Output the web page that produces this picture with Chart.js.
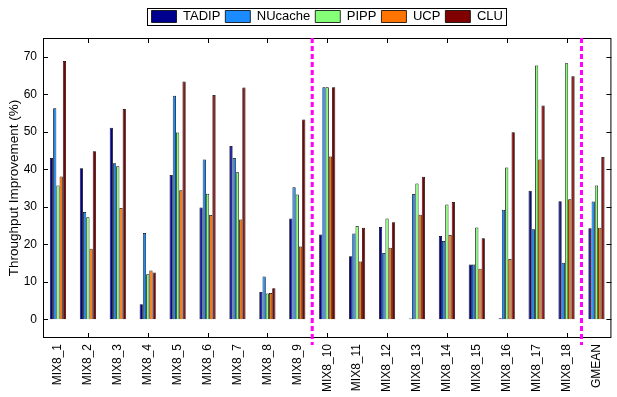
<!DOCTYPE html>
<html>
<head>
<meta charset="utf-8">
<script src="https://cdn.jsdelivr.net/npm/chart.js@4.4.0/dist/chart.umd.min.js"></script>
<style>
  html, body { margin: 0; padding: 0; background: #fff; }
  #wrap { width: 617px; height: 397px; position: relative; }
</style>
</head>
<body>
<div id="wrap"><canvas id="myChart"></canvas></div>
<script>
// data (% throughput improvement)
const categories = ['MIX8_1', 'MIX8_2', 'MIX8_3', 'MIX8_4', 'MIX8_5', 'MIX8_6', 'MIX8_7', 'MIX8_8', 'MIX8_9',
  'MIX8_10', 'MIX8_11', 'MIX8_12', 'MIX8_13', 'MIX8_14', 'MIX8_15', 'MIX8_16', 'MIX8_17', 'MIX8_18', 'GMEAN'];
const tadip   = [43.0, 40.3, 51.1, 4.0, 38.5, 29.8, 46.2, 7.3, 26.9, 22.6, 16.8, 24.6, 0.2, 22.2, 14.6, 0.3, 34.3, 31.5, 24.3];
const nucache = [56.3, 28.6, 41.6, 23.0, 59.6, 42.6, 43.0, 11.4, 35.2, 61.9, 22.9, 17.7, 33.4, 20.9, 14.6, 29.2, 24.0, 15.1, 31.4];
const pipp    = [35.7, 27.2, 40.8, 12.0, 49.8, 33.5, 39.2, 6.9, 33.3, 61.9, 24.9, 26.9, 36.2, 30.6, 24.5, 40.5, 67.7, 68.3, 35.7];
const ucp     = [38.1, 18.8, 29.7, 13.0, 34.4, 27.8, 26.6, 7.0, 19.4, 43.4, 15.4, 19.1, 27.9, 22.5, 13.5, 16.1, 42.6, 32.0, 24.4];
const clu     = [68.9, 44.8, 56.1, 12.5, 63.4, 59.8, 61.8, 8.3, 53.3, 61.9, 24.4, 25.9, 38.0, 31.3, 21.6, 49.9, 57.0, 64.8, 43.3];
const yTicks = [0, 10, 20, 30, 40, 50, 60, 70];
const splitAfter = [8, 17]; // dashed separators after MIX8_9 and MIX8_18

const FONT = 'Liberation Sans, Arial, Helvetica, sans-serif';

function ds(label, data, color) {
  return {
    label: label,
    data: data,
    backgroundColor: color,
    borderColor: '#000',
    borderWidth: 0.8,
    categoryPercentage: 0.54,
    barPercentage: 1.0
  };
}

// leave a gap between legend and plot box
const legendGap = {
  id: 'legendGap',
  afterInit(chart) {
    const lg = chart.legend;
    const fit = lg.fit.bind(lg);
    lg.fit = function () { fit(); this.height += 5; };
  }
};

// box, inward ticks, magenta separators, legend frame
const decorations = {
  id: 'decorations',
  afterDraw(chart) {
    const ctx = chart.ctx;
    const a = chart.chartArea;
    const x = chart.scales.x, y = chart.scales.y;
    ctx.save();
    ctx.strokeStyle = '#000';
    ctx.lineWidth = 1;
    ctx.strokeRect(a.left + 0.5, a.top + 0.5, a.right - a.left - 1, a.bottom - a.top - 1);

    ctx.beginPath();
    yTicks.forEach(v => {
      const py = Math.round(y.getPixelForValue(v)) + 0.5;
      ctx.moveTo(a.left, py); ctx.lineTo(a.left + 5, py);
      ctx.moveTo(a.right, py); ctx.lineTo(a.right - 5, py);
    });
    for (let i = 1; i < categories.length - 1; i += 2) {
      const px = Math.round(x.getPixelForValue(i)) + 0.5;
      ctx.moveTo(px, a.bottom); ctx.lineTo(px, a.bottom - 5);
      ctx.moveTo(px, a.top); ctx.lineTo(px, a.top + 5);
    }
    ctx.stroke();

    // separators
    ctx.strokeStyle = '#ff00ff';
    ctx.lineWidth = 3;
    ctx.setLineDash([5, 3]);
    splitAfter.forEach(i => {
      const px = (x.getPixelForValue(i) + x.getPixelForValue(i + 1)) / 2;
      ctx.beginPath();
      ctx.moveTo(px, a.top);
      ctx.lineTo(px, a.bottom + 7);
      ctx.stroke();
    });
    ctx.setLineDash([]);

    // legend frame
    const hb = chart.legend.legendHitBoxes;
    if (hb && hb.length) {
      const l = Math.min(...hb.map(h => h.left)) - 5;
      const r = Math.max(...hb.map(h => h.left + h.width)) + 3;
      const t = Math.min(...hb.map(h => h.top)) - 2;
      const b = Math.max(...hb.map(h => h.top + h.height)) + 2;
      ctx.strokeStyle = '#000';
      ctx.lineWidth = 1;
      ctx.strokeRect(Math.round(l) + 0.5, Math.round(t) + 0.5, Math.round(r - l), Math.round(b - t));
    }
    ctx.restore();
  }
};

const ctx = document.getElementById('myChart').getContext('2d');
new Chart(ctx, {
  type: 'bar',
  data: {
    labels: categories,
    datasets: [
      ds('TADIP', tadip, '#00008f'),
      ds('NUcache', nucache, '#1a8cff'),
      ds('PIPP', pipp, '#86ff78'),
      ds('UCP', ucp, '#ff7300'),
      ds('CLU', clu, '#800000')
    ]
  },
  options: {
    responsive: true,
    maintainAspectRatio: false,
    animation: false,
    layout: { padding: { left: 0, right: 0, top: 5, bottom: 0 } },
    plugins: {
      tooltip: { enabled: false },
      legend: {
        position: 'top',
        fullSize: false,
        labels: {
          boxWidth: 25,
          boxHeight: 12,
          padding: 5,
          color: '#000',
          font: { family: FONT, size: 13 }
        }
      }
    },
    scales: {
      x: {
        grid: { display: false, drawTicks: false },
        border: { display: false },
        ticks: {
          autoSkip: false,
          minRotation: 90,
          maxRotation: 90,
          padding: 6,
          color: '#000',
          font: { family: FONT, size: 12 }
        },
        afterFit(s) { s.height = 59; }
      },
      y: {
        min: -5,
        max: 75,
        grid: { display: false, drawTicks: false },
        border: { display: false },
        afterBuildTicks(s) { s.ticks = yTicks.map(v => ({ value: v })); },
        ticks: {
          padding: 6,
          color: '#000',
          font: { family: FONT, size: 12 }
        },
        title: {
          display: true,
          text: 'Throughput Improvement (%)',
          color: '#000',
          font: { family: FONT, size: 13.5 },
          padding: { top: 6, bottom: 0 }
        },
        afterFit(s) { s.width = 43; }
      }
    }
  },
  plugins: [legendGap, decorations]
});
</script>
</body>
</html>
